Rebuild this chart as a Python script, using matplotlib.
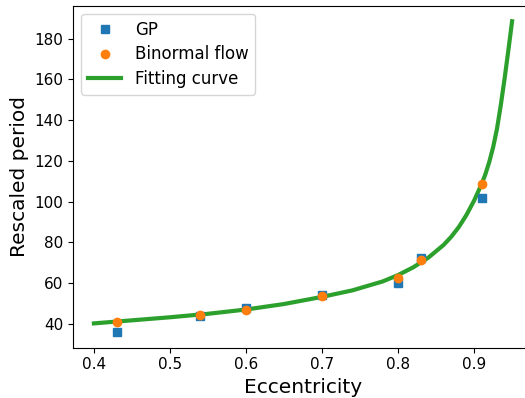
import matplotlib
matplotlib.use("Agg")
import matplotlib.pyplot as plt

# eccentricity of the sampled orbits
ecc = [0.43, 0.54, 0.60, 0.70, 0.80, 0.83, 0.91]
period_gp = [36.0, 44.1, 48.0, 54.2, 60.1, 72.2, 102.0]
period_binormal = [41.2, 44.6, 47.1, 53.6, 62.5, 71.4, 108.5]

# fitting curve
ecc_fit = [0.40, 0.45, 0.50, 0.55, 0.60, 0.65, 0.70, 0.74, 0.78, 0.80, 0.82,
           0.84, 0.86, 0.87, 0.88, 0.89, 0.90, 0.91, 0.915, 0.92, 0.925,
           0.93, 0.935, 0.94, 0.945, 0.95]
period_fit = [40.3, 41.8, 43.3, 45.0, 47.1, 49.8, 53.3, 56.5, 60.9, 64.0, 67.8,
              72.6, 78.8, 82.8, 87.6, 93.5, 100.5, 108.7, 113.6, 119.5, 126.6,
              135.5, 147.0, 160.0, 174.0, 188.5]

fig = plt.figure(figsize=(5.25, 3.98), dpi=100)
# the right edge of the axes runs past the figure, as in the reference
ax = fig.add_axes([73 / 525, 50.3 / 398, 460 / 525, 342 / 398])
ax.spines['right'].set_visible(False)

ax.plot(ecc, period_gp, 's', color='tab:blue', markersize=6, label='GP', zorder=3)
ax.plot(ecc, period_binormal, 'o', color='tab:orange', markersize=6,
        label='Binormal flow', zorder=3)
ax.plot(ecc_fit, period_fit, '-', color='tab:green', linewidth=3,
        label='Fitting curve', zorder=2)

ax.set_xticks([0.4, 0.5, 0.6, 0.7, 0.8, 0.9])
ax.set_yticks([40, 60, 80, 100, 120, 140, 160, 180])
ax.tick_params(labelsize=11)
ax.set_xlabel('Eccentricity', fontsize=14.5)
ax.set_ylabel('Rescaled period', fontsize=14.5)
ax.legend(loc='upper left', fontsize=12, labelspacing=0.4)

fig.savefig('out.png', dpi=100)
